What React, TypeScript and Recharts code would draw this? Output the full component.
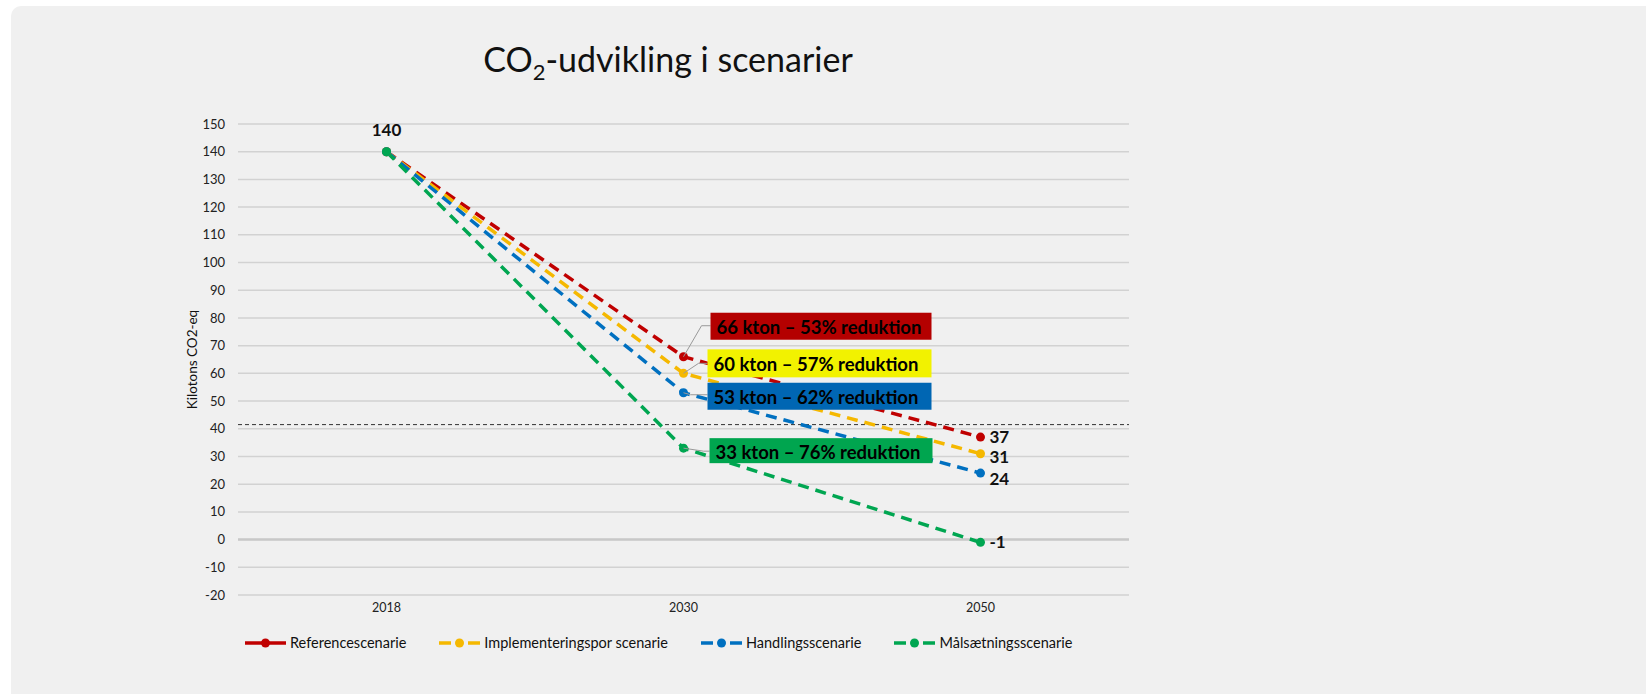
import React from "react"
import {
  LineChart,
  Line,
  XAxis,
  YAxis,
  CartesianGrid,
  ReferenceLine,
  Legend,
} from "recharts"

const years = ["2018", "2030", "2050"]
const referenceScenario = [140, 66, 37]
const implementationScenario = [140, 60, 31]
const actionScenario = [140, 53, 24]
const targetScenario = [140, 33, -1]

const seriesKeys = ["ref", "impl", "action", "target"]
const seriesNames = [
  "Referencescenarie",
  "Implementeringspor scenarie",
  "Handlingsscenarie",
  "Målsætningsscenarie",
]
const callouts = [
  "66 kton – 53% reduktion",
  "60 kton – 57% reduktion",
  "53 kton – 62% reduktion",
  "33 kton – 76% reduktion",
]
const yTicks = [-20, -10, 0, 10, 20, 30, 40, 50, 60, 70, 80, 90, 100, 110, 120, 130, 140, 150]
const targetLevel = 41.5

const LINE_COLORS = ["#C00000", "#F5B800", "#0070C0", "#00A651"]
const BOX_COLORS = ["#B40000", "#F2F200", "#0066B3", "#00A54F"]

// callout box offsets relative to the 2030 point
const BOX = [
  { dx: 27, dy: -44, w: 221, h: 27, bx: 18, by: -31 },
  { dx: 24, dy: -24, w: 224, h: 28, bx: 15, by: -10 },
  { dx: 24, dy: -10, w: 224, h: 27, bx: 7, by: 2 },
  { dx: 26, dy: -10, w: 223, h: 25, bx: 20, by: 3 },
]
const END_DY = [-1, 3, 5, -1]

const FONT = "Lato, 'Open Sans', sans-serif"

const data = years.map((year, i) => ({
  year,
  ref: referenceScenario[i],
  impl: implementationScenario[i],
  action: actionScenario[i],
  target: targetScenario[i],
}))

const seriesValues = [referenceScenario, implementationScenario, actionScenario, targetScenario]

function makeLabel(s: number) {
  return (props: any) => {
    const { x, y, index } = props
    if (x == null || y == null) return null
    if (index === 0) {
      if (s !== 3) return null
      return (
        <text x={x} y={y - 22} textAnchor="middle" dominantBaseline="central"
          fontFamily={FONT} fontWeight={700} fontSize={17} fill="#111">
          {seriesValues[s][0]}
        </text>
      )
    }
    if (index === 1) {
      const b = BOX[s]
      return (
        <g>
          <polyline
            points={`${x},${y} ${x + b.bx},${y + b.by} ${x + b.dx},${y + b.by}`}
            fill="none" stroke="#999" strokeWidth={1} />
          <rect x={x + b.dx} y={y + b.dy} width={b.w} height={b.h} fill={BOX_COLORS[s]} />
          <text x={x + b.dx + 6} y={y + b.dy + b.h / 2 + 1} dominantBaseline="central"
            fontFamily={FONT} fontWeight={700} fontSize={18.5} fill="#000">
            {callouts[s]}
          </text>
        </g>
      )
    }
    return (
      <text x={x + 9} y={y + END_DY[s]} dominantBaseline="central"
        fontFamily={FONT} fontWeight={700} fontSize={17} fill="#111">
        {seriesValues[s][2]}
      </text>
    )
  }
}

function LegendContent() {
  return (
    <div style={{ display: "flex", paddingLeft: 245, fontFamily: FONT, fontSize: 14.5, color: "#111" }}>
      {seriesNames.map((name, i) => (
        <div key={name} style={{ display: "flex", alignItems: "center", marginRight: 33 }}>
          <svg width={41} height={12} style={{ marginRight: 4 }}>
            {i === 0 ? (
              <line x1={0} y1={6} x2={41} y2={6} stroke={LINE_COLORS[i]} strokeWidth={3.5} />
            ) : (
              <>
                <line x1={0} y1={6} x2={12} y2={6} stroke={LINE_COLORS[i]} strokeWidth={3.5} />
                <line x1={29} y1={6} x2={41} y2={6} stroke={LINE_COLORS[i]} strokeWidth={3.5} />
              </>
            )}
            <circle cx={20.5} cy={6} r={4.5} fill={LINE_COLORS[i]} />
          </svg>
          <span>{name}</span>
        </div>
      ))}
    </div>
  )
}

export default function App() {
  return (
    <div style={{ position: "absolute", left: 0, top: 0, width: 1646, height: 694, background: "#fff", overflow: "hidden" }}>
      <div style={{ position: "absolute", left: 11, top: 6, width: 1660, height: 700, background: "#F0F0F0", borderRadius: 10 }} />
      <svg style={{ position: "absolute", left: 0, top: 0 }} width={1646} height={100}>
        <text x={668} y={72} textAnchor="middle" fontFamily={FONT} fontSize={34} fill="#111">
          CO<tspan fontSize={22} dy={8}>2</tspan><tspan dy={-8}>-udvikling i scenarier</tspan>
        </text>
      </svg>
      <div style={{ position: "absolute", left: 0, top: 0 }}>
        <LineChart width={1646} height={694} data={data}
          margin={{ top: 124, right: 517, bottom: 69, left: 178 }}>
          <CartesianGrid vertical={false} stroke="#D2D2D2" strokeWidth={1.5} />
          <XAxis dataKey="year" scale="band" axisLine={false} tickLine={false} height={30}
            tick={{ fontFamily: FONT, fontSize: 12.5, fill: "#222" }} />
          <YAxis width={60} domain={[-20, 150]} ticks={yTicks} interval={0} axisLine={false} tickLine={false}
            tickMargin={7} tick={{ fontFamily: FONT, fontSize: 13, fill: "#222" }}
            label={{
              content: (p: any) => {
                const vb = p.viewBox
                const cx = 192
                const cy = vb.y + vb.height / 2
                return (
                  <text x={cx} y={cy} transform={`rotate(-90, ${cx}, ${cy})`} textAnchor="middle"
                    dominantBaseline="central" fontFamily={FONT} fontSize={13.5} fill="#111">
                    Kilotons CO2-eq
                  </text>
                )
              },
            }} />
          <ReferenceLine y={0} stroke="#C8C8C8" strokeWidth={2.5} />
          <ReferenceLine y={targetLevel} stroke="#333" strokeWidth={1} strokeDasharray="4 3" />
          {seriesKeys.map((k, s) => (
            <Line key={k} dataKey={k} name={seriesNames[s]} stroke={LINE_COLORS[s]} strokeWidth={3.5}
              strokeDasharray="11 7" dot={{ r: 4.5, fill: LINE_COLORS[s], stroke: "none" }}
              activeDot={false} isAnimationActive={false} label={makeLabel(s)} />
          ))}
          <Legend layout="horizontal" verticalAlign="middle" align="center"
            wrapperStyle={{ top: 634, left: 0, width: 1646 }} content={<LegendContent />} />
        </LineChart>
      </div>
    </div>
  )
}
